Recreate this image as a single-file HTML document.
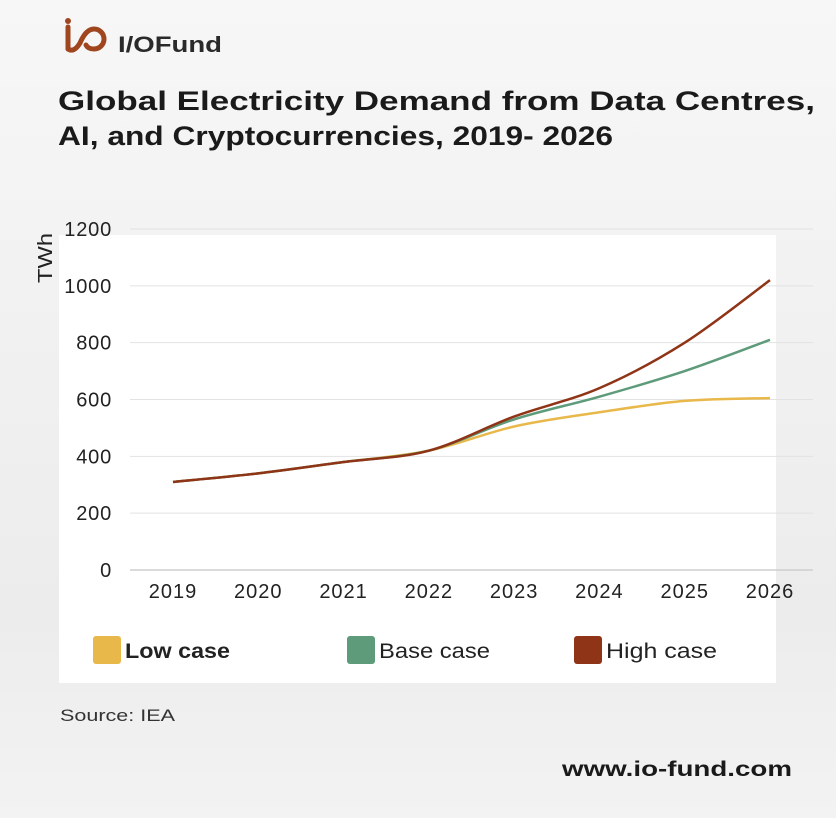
<!DOCTYPE html>
<html><head><meta charset="utf-8"><style>
body{margin:0;width:836px;height:818px;overflow:hidden;font-family:"Liberation Sans",sans-serif;}
#bg{position:absolute;left:0;top:0;width:836px;height:818px;background:linear-gradient(180deg,#f7f7f7 0%,#f1f1f1 40%,#ececec 75%,#f3f3f3 100%);}
</style></head><body>
<div id="bg"></div>
<svg width="836" height="818" style="position:absolute;left:0;top:0">
<g>
<path d="M68 27 v22" stroke="#a0461f" stroke-width="5" stroke-linecap="round" fill="none"/>
<circle cx="68" cy="21" r="3" fill="#a0461f"/>
<path d="M68 49 q6 4 12 -6 q6 -14 14 -14 a10 10 0 0 1 0 20 q-6 0 -8 -4" stroke="#a0461f" stroke-width="5" fill="none" stroke-linecap="round"/>
<text x="118" y="52" font-size="22" font-weight="bold" fill="#2a2a2a" textLength="104" lengthAdjust="spacingAndGlyphs">I/OFund</text>
</g>
<text x="58" y="110" font-size="27" font-weight="bold" fill="#1a1a1a" textLength="757" lengthAdjust="spacingAndGlyphs">Global Electricity Demand from Data Centres,</text>
<text x="58" y="145" font-size="27" font-weight="bold" fill="#1a1a1a" textLength="555" lengthAdjust="spacingAndGlyphs">AI, and Cryptocurrencies, 2019- 2026</text>
<rect x="59" y="235" width="717" height="448" fill="#fff"/>
<g id="grid"></g><g id="series"></g>
<text transform="translate(52,258) rotate(-90)" font-size="20" fill="#222" text-anchor="middle" textLength="50" lengthAdjust="spacingAndGlyphs">TWh</text>
<g>
<rect x="93" y="636" width="28" height="28" rx="3" fill="#e9b84a"/>
<text x="125" y="658" font-size="21" font-weight="bold" fill="#222" textLength="105" lengthAdjust="spacingAndGlyphs">Low case</text>
<rect x="347" y="636" width="28" height="28" rx="3" fill="#5e9b7a"/>
<text x="379" y="658" font-size="21" fill="#222" textLength="111" lengthAdjust="spacingAndGlyphs">Base case</text>
<rect x="574" y="636" width="28" height="28" rx="3" fill="#8f3416"/>
<text x="606" y="658" font-size="21" fill="#222" textLength="111" lengthAdjust="spacingAndGlyphs">High case</text>
</g>
<text x="60" y="721" font-size="17" fill="#333" textLength="115" lengthAdjust="spacingAndGlyphs">Source: IEA</text>
<text x="562" y="776" font-size="21" font-weight="bold" fill="#1a1a1a" textLength="230" lengthAdjust="spacingAndGlyphs">www.io-fund.com</text>
</svg>
<script>
const years=["2019","2020","2021","2022","2023","2024","2025","2026"];
const lowCase=[310,340,380,420,505,555,595,605];
const baseCase=[310,340,380,420,530,610,700,810];
const highCase=[310,340,380,420,540,640,800,1020];
const yTicks=[0,200,400,600,800,1000,1200];
const NS="http://www.w3.org/2000/svg";
const x=i=>173+i*(770-173)/(years.length-1);
const y=v=>570-v*(570-229)/1200;
const grid=document.getElementById('grid');
yTicks.forEach(t=>{
 const l=document.createElementNS(NS,'line');
 l.setAttribute('x1',130);l.setAttribute('x2',813);l.setAttribute('y1',y(t));l.setAttribute('y2',y(t));
 l.setAttribute('stroke',t===0?'#cfcfcf':'#e2e2e2');l.setAttribute('stroke-width',t===0?1.5:1);
 
 
 grid.appendChild(l);
 const tx=document.createElementNS(NS,'text');
 tx.setAttribute('x',112);tx.setAttribute('y',y(t)+7);tx.setAttribute('text-anchor','end');
 tx.setAttribute('font-size','20');tx.setAttribute('fill','#222');tx.setAttribute('letter-spacing','0.8');tx.textContent=t;
 
 
 grid.appendChild(tx);
});
years.forEach((yr,i)=>{
 const tx=document.createElementNS(NS,'text');
 tx.setAttribute('x',x(i));tx.setAttribute('y',598);tx.setAttribute('text-anchor','middle');
 tx.setAttribute('font-size','20');tx.setAttribute('fill','#222');tx.setAttribute('letter-spacing','1');tx.textContent=yr;
 
 
 grid.appendChild(tx);
});
function smooth(vals){
 const p=vals.map((v,i)=>[x(i),y(v)]);
 let d=`M${p[0][0]},${p[0][1]}`;
 for(let i=0;i<p.length-1;i++){
  const p0=p[Math.max(0,i-1)],p1=p[i],p2=p[i+1],p3=p[Math.min(p.length-1,i+2)];
  const c1=[p1[0]+(p2[0]-p0[0])/6,p1[1]+(p2[1]-p0[1])/6];
  const c2=[p2[0]-(p3[0]-p1[0])/6,p2[1]-(p3[1]-p1[1])/6];
  d+=` C${c1[0]},${c1[1]} ${c2[0]},${c2[1]} ${p2[0]},${p2[1]}`;
 }
 return d;
}
const ser=document.getElementById('series');
[[lowCase,'#e9b84a','line-low-case'],[baseCase,'#5e9b7a','line-base-case'],[highCase,'#8f3416','line-high-case']].forEach(([vals,c,n])=>{
 const p=document.createElementNS(NS,'path');
 p.setAttribute('d',smooth(vals));p.setAttribute('fill','none');p.setAttribute('stroke',c);p.setAttribute('stroke-width',2.5);
 
 
 ser.appendChild(p);
});
</script>
</body></html>
